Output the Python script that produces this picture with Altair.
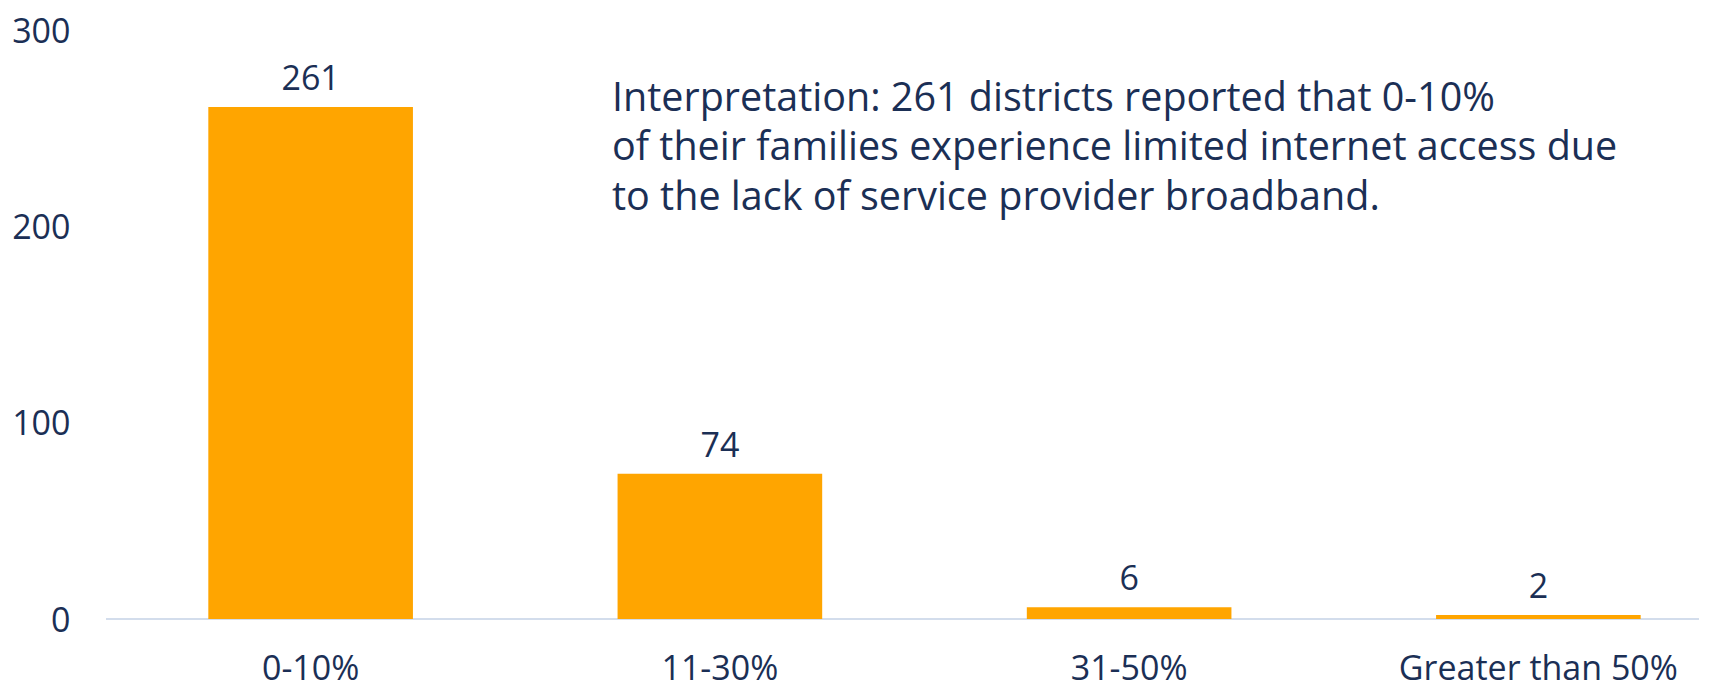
import altair as alt
import pandas as pd

categories = ["0-10%", "11-30%", "31-50%", "Greater than 50%"]
values = [261, 74, 6, 2]
y_ticks = [0, 100, 200, 300]
note_lines = [
    "Interpretation: 261 districts reported that 0-10%",
    "of their families experience limited internet access due",
    "to the lack of service provider broadband.",
]

TEXT = "#1B2F55"
BAR = "#FFA500"
LINE = "#D3DDEC"
FONT = "Open Sans"

W = 1593
H = 588.5

df = pd.DataFrame({"cat": categories, "val": values})
note_df = pd.DataFrame({"t": ["\n".join(note_lines)]})

x = alt.X("cat:N", sort=categories, title=None,
          scale=alt.Scale(range=[0, 1637], paddingInner=0.5, paddingOuter=0.25),
          axis=alt.Axis(labelAngle=0, domain=False, ticks=False, labelFontSize=34,
                        labelColor=TEXT, labelFont=FONT, labelPadding=33, labelLimit=0))
y = alt.Y("val:Q", title=None,
          scale=alt.Scale(domain=[0, 300], nice=False),
          axis=alt.Axis(values=y_ticks, domain=False, ticks=False, grid=False,
                        labelFontSize=34, labelColor=TEXT, labelFont=FONT,
                        labelPadding=36, labelOffset=2))

bars = alt.Chart(df).mark_bar(color=BAR).encode(x=x, y=y)
labels = alt.Chart(df).mark_text(fontSize=34, color=TEXT, font=FONT,
                                 baseline="alphabetic", dy=-17).encode(
    x=alt.X("cat:N", sort=categories), y="val:Q", text="val:Q")
base_rule = alt.Chart(pd.DataFrame({"v": [0]})).mark_rule(color=LINE, strokeWidth=2).encode(
    y="v:Q", x=alt.value(0), x2=alt.value(W))
note = alt.Chart(note_df).mark_text(fontSize=39.5, color=TEXT, font=FONT, align="left",
                                    baseline="alphabetic", lineBreak="\n",
                                    lineHeight=49.6).encode(
    x=alt.value(506), y=alt.value(80), text="t:N")

chart = alt.layer(base_rule, bars, labels, note).properties(
    width=W, height=H,
    autosize=alt.AutoSizeParams(type="none"),
    padding={"left": 98, "top": 22.5, "right": 20, "bottom": 64},
).configure_view(stroke=None)

chart.save("out.html", embed_options={"renderer": "svg", "actions": False})
